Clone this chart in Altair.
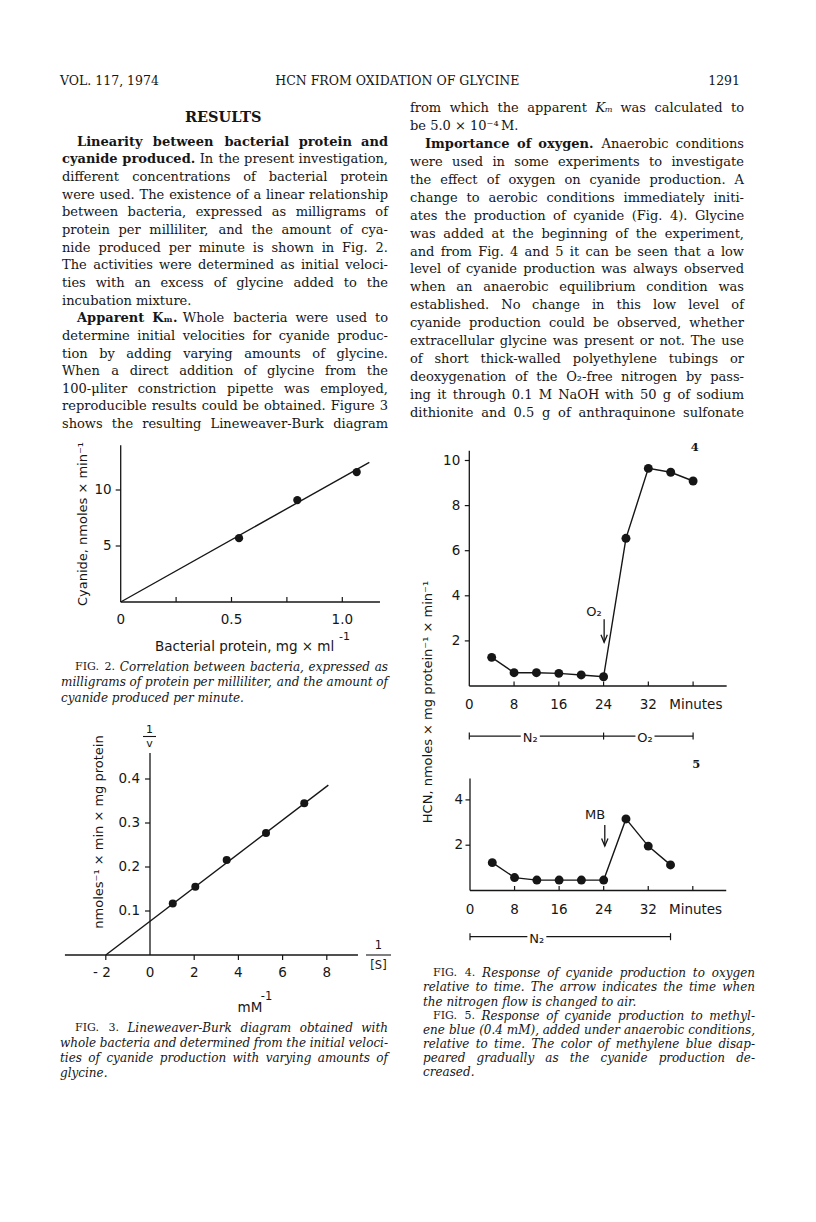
import altair as alt
import pandas as pd

INK = "#161616"
SERIF = "DejaVu Serif"
SANS = "DejaVu Sans"

# ---------------- values ----------------
fig2_protein = [0.534, 0.797, 1.065]
fig2_cyanide = [5.7, 9.1, 11.6]
fig2_fit_protein = [0.0, 1.122]
fig2_fit_cyanide = [0.0, 12.47]

fig3_inv_s = [1.03, 2.05, 3.47, 5.25, 6.98]
fig3_inv_v = [0.117, 0.155, 0.216, 0.277, 0.345]
fig3_fit_inv_s = [-2.0, 8.07]
fig3_fit_inv_v = [0.0, 0.386]

fig4_minutes = [4, 8, 12, 16, 20, 24, 28, 32, 36, 40]
fig4_hcn = [1.27, 0.59, 0.59, 0.56, 0.49, 0.41, 6.55, 9.65, 9.48, 9.09]

fig5_minutes = [4, 8, 12, 16, 20, 24, 28, 32, 36]
fig5_hcn = [1.23, 0.57, 0.46, 0.46, 0.46, 0.46, 3.16, 1.96, 1.13]

# ticks and tick labels
fig2_xticks = [0.25, 0.5, 0.75, 1.0]
fig2_xlabel_at = [0.0, 0.5, 1.0]
fig2_xlabels = ["0", "0.5", "1.0"]
fig2_yticks = [5, 10]
fig2_ylabels = ["5", "10"]

fig3_xticks = [-2, 2, 4, 6, 8]
fig3_xlabel_at = [0, 2, 4, 6, 8]
fig3_xlabels = ["0", "2", "4", "6", "8"]
fig3_yticks = [0.1, 0.2, 0.3, 0.4]
fig3_ylabels = ["0.1", "0.2", "0.3", "0.4"]

fig45_xticks = [8, 16, 24, 32, 40]
fig45_xlabel_at = [0, 8, 16, 24, 32, 40.5]
fig45_xlabels = ["0", "8", "16", "24", "32", "Minutes"]
fig4_yticks = [2, 4, 6, 8, 10]
fig4_ylabels = ["2", "4", "6", "8", "10"]
fig5_yticks = [2, 4]
fig5_ylabels = ["2", "4"]

# gas-phase bars under Fig. 4 and Fig. 5 (minutes)
fig4_phase_bounds = [0, 24, 40]
fig4_phase_labels = ["N₂", "O₂"]
fig4_phase_label_at = [10.9, 31.4]
fig5_phase_bounds = [0, 36]
fig5_phase_labels = ["N₂"]
fig5_phase_label_at = [12.0]

# ---------------- page text ----------------
header = ["VOL. 117, 1974", "HCN FROM OXIDATION OF GLYCINE", "1291"]

left_text = [
    [("b", "Linearity between bacterial protein and")],
    [("b", "cyanide produced."), ("r", "In the present investigation,")],
    [("r", "different concentrations of bacterial protein")],
    [("r", "were used. The existence of a linear relationship")],
    [("r", "between bacteria, expressed as milligrams of")],
    [("r", "protein per milliliter, and the amount of cya-")],
    [("r", "nide produced per minute is shown in Fig. 2.")],
    [("r", "The activities were determined as initial veloci-")],
    [("r", "ties with an excess of glycine added to the")],
    [("r", "incubation mixture.")],
    [("b", "Apparent Kₘ."), ("r", "Whole bacteria were used to")],
    [("r", "determine initial velocities for cyanide produc-")],
    [("r", "tion by adding varying amounts of glycine.")],
    [("r", "When a direct addition of glycine from the")],
    [("r", "100-μliter constriction pipette was employed,")],
    [("r", "reproducible results could be obtained. Figure 3")],
    [("r", "shows the resulting Lineweaver-Burk diagram")],
]

right_text = [
    [("r", "from which the apparent"), ("i", "Kₘ"), ("r", "was calculated to")],
    [("r", "be 5.0 × 10⁻⁴ M.")],
    [("b", "Importance of oxygen."), ("r", "Anaerobic conditions")],
    [("r", "were used in some experiments to investigate")],
    [("r", "the effect of oxygen on cyanide production. A")],
    [("r", "change to aerobic conditions immediately initi-")],
    [("r", "ates the production of cyanide (Fig. 4). Glycine")],
    [("r", "was added at the beginning of the experiment,")],
    [("r", "and from Fig. 4 and 5 it can be seen that a low")],
    [("r", "level of cyanide production was always observed")],
    [("r", "when an anaerobic equilibrium condition was")],
    [("r", "established. No change in this low level of")],
    [("r", "cyanide production could be observed, whether")],
    [("r", "extracellular glycine was present or not. The use")],
    [("r", "of short thick-walled polyethylene tubings or")],
    [("r", "deoxygenation of the O₂-free nitrogen by pass-")],
    [("r", "ing it through 0.1 M NaOH with 50 g of sodium")],
    [("r", "dithionite and 0.5 g of anthraquinone sulfonate")],
]

fig2_caption = [
    [("f", "FIG. 2."), ("i", "Correlation between bacteria, expressed as")],
    [("i", "milligrams of protein per milliliter, and the amount of")],
    [("i", "cyanide produced per minute.")],
]
fig3_caption = [
    [("f", "FIG. 3."), ("i", "Lineweaver-Burk diagram obtained with")],
    [("i", "whole bacteria and determined from the initial veloci-")],
    [("i", "ties of cyanide production with varying amounts of")],
    [("i", "glycine.")],
]
fig45_caption = [
    [("f", "FIG. 4."), ("i", "Response of cyanide production to oxygen")],
    [("i", "relative to time. The arrow indicates the time when")],
    [("i", "the nitrogen flow is changed to air.")],
    [("f", "FIG. 5."), ("i", "Response of cyanide production to methyl-")],
    [("i", "ene blue (0.4 mM), added under anaerobic conditions,")],
    [("i", "relative to time. The color of methylene blue disap-")],
    [("i", "peared gradually as the cyanide production de-")],
    [("i", "creased.")],
]

# ---------------- helpers ----------------
def P(v):  # page pixel -> chart pixel (8px body margin)
    return v - 8


def sc(domain, rng):
    return alt.Scale(domain=domain, range=rng, nice=False, zero=False)


PXS = sc([0, 816], [P(0), P(816)])
PYS = sc([0, 1222], [P(0), P(1222)])


def enc(xs, ys):
    return dict(x=alt.X("x:Q", scale=xs, axis=None), y=alt.Y("y:Q", scale=ys, axis=None))


def segs(xs, ys, x, x2, y, y2, w=1.3, **kw):
    df = pd.DataFrame({"x": x, "x2": x2, "y": y, "y2": y2})
    return alt.Chart(df).mark_rule(color=INK, strokeWidth=w, **kw).encode(
        **enc(xs, ys), x2=alt.X2("x2"), y2=alt.Y2("y2"))


def xticks(xs, ys, vals, y0=0.0, length=-5):
    df = pd.DataFrame({"x": vals, "y": [y0] * len(vals)})
    return alt.Chart(df).mark_rule(color=INK, strokeWidth=1.2, y2Offset=length).encode(
        **enc(xs, ys), y2=alt.Y2("y"))


def yticks(xs, ys, vals, x0=0.0, length=-5):
    df = pd.DataFrame({"x": [x0] * len(vals), "y": vals})
    return alt.Chart(df).mark_rule(color=INK, strokeWidth=1.2, x2Offset=length).encode(
        **enc(xs, ys), x2=alt.X2("x"))


def caps(xs, ys, vals, y0, half=3.5):
    df = pd.DataFrame({"x": vals, "y": [y0] * len(vals)})
    return alt.Chart(df).mark_rule(color=INK, strokeWidth=1.2, yOffset=-half, y2Offset=half).encode(
        **enc(xs, ys), y2=alt.Y2("y"))


def labels(xs, ys, xv, yv, txt, size=13.5, font=SANS, **kw):
    df = pd.DataFrame({"x": xv, "y": yv, "t": txt})
    return alt.Chart(df).mark_text(font=font, fontSize=size, color=INK, **kw).encode(
        **enc(xs, ys), text="t:N")


def series(xs, ys, xv, yv, dot=70, w=1.4):
    df = pd.DataFrame({"x": xv, "y": yv})
    base = alt.Chart(df)
    return [
        base.mark_line(color=INK, strokeWidth=w).encode(**enc(xs, ys)),
        base.mark_circle(size=dot, color=INK, opacity=1).encode(**enc(xs, ys)),
    ]


ARROW = "M-0.42,-1L0,0L0.42,-1"


def arrow(xs, ys, x, y_from, y_to):
    head = alt.Chart(pd.DataFrame({"x": [x], "y": [y_to]})).mark_point(
        shape=ARROW, size=230, filled=False, color=INK, strokeWidth=1.3, opacity=1
    ).encode(**enc(xs, ys))
    return [segs(xs, ys, [x], [x], [y_from], [y_to], w=1.3), head]


def phase_bar(xs, ys, bounds, labs, lab_at, y0, half_gap):
    x1, x2 = [], []
    cuts = sorted([(a - half_gap, a + half_gap) for a in lab_at])
    start = bounds[0]
    for a, b in cuts:
        x1.append(start); x2.append(a); start = b
    x1.append(start); x2.append(bounds[-1])
    out = [segs(xs, ys, x1, x2, [y0] * len(x1), [y0] * len(x1), w=1.2),
           caps(xs, ys, bounds, y0),
           labels(xs, ys, lab_at, [y0] * len(lab_at), labs, size=13, baseline="middle", dy=2)]
    return out


# character widths (em) used to justify text lines
CW = dict(a=.596, b=.640, c=.560, d=.640, e=.592, f=.370, g=.640, h=.644, i=.320, j=.310,
          k=.606, l=.320, m=.948, n=.644, o=.602, p=.640, q=.640, r=.478, s=.513, t=.402,
          u=.644, v=.565, w=.856, x=.564, y=.565, z=.527,
          A=.722, B=.735, C=.720, D=.802, E=.730, F=.695, G=.775, H=.873, I=.472, K=.770,
          L=.695, M=1.009, N=.836, O=.787, P=.704, R=.770, S=.648, T=.682, W=1.104, V=.722, Y=.682)
CW.update({" ": .318, ".": .318, ",": .318, "-": .338, "(": .39, ")": .39, "×": .838,
           "μ": .66, "ₘ": .5, "₂": .4, "⁻": .4, "⁴": .4, ":": .337})
for d in "0123456789":
    CW[d] = .636


def tw(s, size, st):
    k = 1.1 if st == "b" else 1.0
    return sum(CW.get(c, 0.72 if c.isupper() else 0.6) for c in s) * size * k


def layout(lines, left, right, y0, dy, size, indent=None, last=()):
    indent = indent or {}
    rows = []
    for i, runs in enumerate(lines):
        words = [(st, w) for st, txt in runs for w in txt.split(" ") if w]
        sizes = [size * (0.92 if st == "f" else 1.0) for st, _ in words]
        widths = [tw(w, s, st) for (st, w), s in zip(words, sizes)]
        L = left + indent.get(i, 0)
        n = len(words)
        if i in last or n < 2:
            gap = 0.318 * size
        else:
            gap = max((right - L - sum(widths)) / (n - 1), 0.22 * size)
        x = L
        for (st, w), s, wd in zip(words, sizes, widths):
            rows.append({"x": x, "y": y0 + i * dy, "t": w, "s": st, "size": s})
            x += wd + gap
    return rows


layers = []

# ---------------- page text ----------------
BODY = 13.0
CAP = 12.0
rows = []
rows += layout(left_text, 62, 388, 141.7, 17.65, BODY, indent={0: 15, 10: 15}, last=(9,))
rows += layout(right_text, 410, 744, 108.3, 17.9, BODY, indent={2: 15}, last=(1,))
rows += layout(fig2_caption, 61, 388, 666.7, 15.7, CAP, indent={0: 14}, last=(2,))
rows += layout(fig3_caption, 60, 388, 1028.3, 14.9, CAP, indent={0: 15}, last=(3,))
rows += layout(fig45_caption, 423, 755, 973.3, 14.14, CAP, indent={0: 10, 3: 10}, last=(2, 7))
HS = 12.5
rows.append({"x": 60, "y": 80.7, "t": header[0], "s": "r", "size": HS})
rows.append({"x": 398 - tw(header[1], HS, "r") / 2, "y": 80.7, "t": header[1], "s": "r", "size": HS})
rows.append({"x": 740 - tw(header[2], HS, "r"), "y": 80.7, "t": header[2], "s": "r", "size": HS})
rows.append({"x": 224 - tw("RESULTS", 14.5, "b") / 2, "y": 117.7, "t": "RESULTS", "s": "b", "size": 14.5})
words = pd.DataFrame(rows)

STYLE = {"r": {}, "f": {}, "b": {"fontWeight": "bold"}, "i": {"fontStyle": "italic"}}
for st, kw in STYLE.items():
    sub = words[words.s == st]
    layers.append(
        alt.Chart(sub).mark_text(font=SERIF, align="left", baseline="middle", color=INK, **kw).encode(
            x=alt.X("x:Q", scale=PXS, axis=None), y=alt.Y("y:Q", scale=PYS, axis=None),
            text="t:N", size=alt.Size("size:Q", scale=None, legend=None)))

# ---------------- Fig. 2 ----------------
xs2 = sc([0, 1], [P(120.7), P(342.3)])
ys2 = sc([0, 10], [P(602), P(490)])
layers += [
    segs(xs2, ys2, [0, 0], [1.17, 0], [0, 0], [0, 14.0]),
    xticks(xs2, ys2, fig2_xticks, length=-5),
    yticks(xs2, ys2, fig2_yticks, length=-5),
    labels(xs2, ys2, fig2_xlabel_at, [0] * 3, fig2_xlabels, baseline="middle", dy=18),
    labels(xs2, ys2, [0] * 2, fig2_yticks, fig2_ylabels, baseline="middle", align="right", dx=-9),
]
layers += series(xs2, ys2, fig2_fit_protein, fig2_fit_cyanide, dot=0)[:1]
layers += series(xs2, ys2, fig2_protein, fig2_cyanide, dot=68)[1:]
layers += [
    labels(PXS, PYS, [155], [647], ["Bacterial  protein, mg × ml"], size=13.5, align="left", baseline="middle"),
    labels(PXS, PYS, [339], [637], ["-1"], size=11, align="left", baseline="middle"),
    labels(PXS, PYS, [83], [524], ["Cyanide, nmoles × min⁻¹"], size=13, angle=270, baseline="middle"),
]

# ---------------- Fig. 3 ----------------
xs3 = sc([0, 8], [P(150), P(326.8)])
ys3 = sc([0, 0.4], [P(955), P(779)])
layers += [
    segs(xs3, ys3, [-3.85, 0], [9.41, 0], [0, 0], [0, 0.459]),
    xticks(xs3, ys3, fig3_xticks, length=5),
    yticks(xs3, ys3, fig3_yticks, length=-5),
    labels(xs3, ys3, fig3_xlabel_at, [0] * 5, fig3_xlabels, baseline="middle", dy=18),
    labels(xs3, ys3, [-2], [0], ["- 2"], baseline="middle", align="right", dy=18, dx=5),
    labels(xs3, ys3, [0] * 4, fig3_yticks, fig3_ylabels, baseline="middle", align="right", dx=-10),
]
layers += series(xs3, ys3, fig3_fit_inv_s, fig3_fit_inv_v, dot=0)[:1]
layers += series(xs3, ys3, fig3_inv_s, fig3_inv_v, dot=64)[1:]
layers += [
    labels(PXS, PYS, [149.5], [729.5], ["1"], size=11, baseline="middle"),
    segs(PXS, PYS, [143], [156], [736.5], [736.5], w=1.1),
    labels(PXS, PYS, [149.5], [743.5], ["v"], size=11, baseline="middle"),
    labels(PXS, PYS, [378.5], [946], ["1"], size=11.5, baseline="middle"),
    segs(PXS, PYS, [366], [391], [955], [955], w=1.1),
    labels(PXS, PYS, [378.5], [965.5], ["[S]"], size=11.5, baseline="middle"),
    labels(PXS, PYS, [250], [1008], ["mM"], size=13.5, baseline="middle"),
    labels(PXS, PYS, [266.5], [997], ["-1"], size=11.5, baseline="middle"),
    labels(PXS, PYS, [99], [832], ["nmoles⁻¹ × min × mg protein"], size=13, angle=270, baseline="middle"),
]

# ---------------- Fig. 4 ----------------
xs4 = sc([0, 40], [P(469.3), P(693.1)])
ys4 = sc([0, 10], [P(686), P(460.5)])
layers += [
    segs(xs4, ys4, [0, 0], [46, 0], [0, 0], [0, 10.43]),
    xticks(xs4, ys4, fig45_xticks, length=-4.5),
    yticks(xs4, ys4, fig4_yticks, length=-4.5),
    labels(xs4, ys4, fig45_xlabel_at, [0] * 6, fig45_xlabels, baseline="middle", dy=19),
    labels(xs4, ys4, [0] * 5, fig4_yticks, fig4_ylabels, baseline="middle", align="right", dx=-9),
]
layers += series(xs4, ys4, fig4_minutes, fig4_hcn, dot=80)
layers += arrow(xs4, ys4, 24.1, 2.96, 1.94)
layers += [
    labels(xs4, ys4, [22.3], [3.3], ["O₂"], size=13, baseline="middle"),
    labels(xs4, ys4, [40.3], [10.54], ["4"], size=11.5, font=SERIF, fontWeight="bold", baseline="middle"),
]
layers += phase_bar(xs4, ys4, fig4_phase_bounds, fig4_phase_labels, fig4_phase_label_at, -2.22, 1.7)

# ---------------- Fig. 5 ----------------
xs5 = sc([0, 40], [P(470), P(692.8)])
ys5 = sc([0, 4], [P(890.5), P(799.9)])
layers += [
    segs(xs5, ys5, [0, 0], [46, 0], [0, 0], [0, 4.95]),
    xticks(xs5, ys5, fig45_xticks, length=-4.5),
    yticks(xs5, ys5, fig5_yticks, length=-4.5),
    labels(xs5, ys5, fig45_xlabel_at, [0] * 6, fig45_xlabels, baseline="middle", dy=19.5),
    labels(xs5, ys5, [0] * 2, fig5_yticks, fig5_ylabels, baseline="middle", align="right", dx=-7),
]
layers += series(xs5, ys5, fig5_minutes, fig5_hcn, dot=80)
layers += arrow(xs5, ys5, 24.2, 2.89, 1.96)
layers += [
    labels(xs5, ys5, [22.45], [3.32], ["MB"], size=13, baseline="middle"),
    labels(xs5, ys5, [40.6], [5.54], ["5"], size=11.5, font=SERIF, fontWeight="bold", baseline="middle"),
]
layers += phase_bar(xs5, ys5, fig5_phase_bounds, fig5_phase_labels, fig5_phase_label_at, -2.04, 1.7)
layers += [
    labels(PXS, PYS, [428], [702], ["HCN, nmoles × mg protein⁻¹ × min⁻¹"], size=13, angle=270, baseline="middle"),
]

chart = (
    alt.layer(*layers)
    .resolve_scale(x="independent", y="independent")
    .properties(width=800, height=1100, autosize=alt.AutoSizeParams(type="none"), padding=0,
                background="white")
    .configure_view(stroke=None)
)

chart.save("out.html", embed_options={"renderer": "svg", "actions": False})
